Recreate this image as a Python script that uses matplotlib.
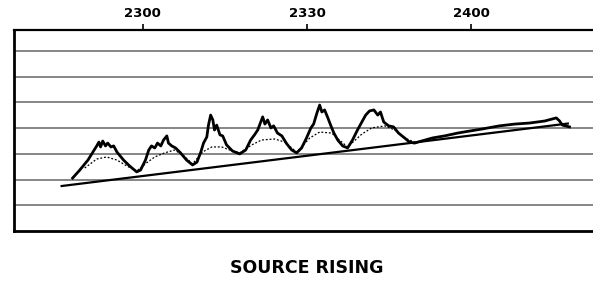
import matplotlib
matplotlib.use("Agg")
import matplotlib.pyplot as plt
import numpy as np

# time axis in minutes after 2300, level in grid units
tick_pos = [0, 30, 60]
tick_labels = ["2300", "2330", "2400"]
grid_levels = [1, 2, 3, 4, 5, 6, 7]

trace_t = [-12.8, -11.5, -10.0, -9.1, -8.4, -8.0, -7.7, -7.3, -6.8, -6.4, -5.8, -5.3, -4.7,
           -3.5, -2.4, -1.1, -0.4, 0.5, 1.1, 1.6, 2.2, 2.7, 3.3, 3.8, 4.4, 4.7, 5.3, 6.0,
           6.9, 8.0, 9.1, 9.9, 10.6, 11.1, 11.7, 12.0, 12.4, 12.8, 13.1, 13.5, 14.1, 14.6,
           15.3, 16.4, 17.7, 18.8, 19.7, 20.4, 21.0, 21.4, 21.9, 22.3, 22.8, 23.4, 23.9,
           24.6, 25.4, 26.3, 27.2, 28.1, 29.0, 29.9, 30.7, 31.2, 31.8, 32.3, 32.7, 33.2,
           33.8, 34.3, 34.9, 35.6, 36.5, 37.4, 38.3, 39.2, 40.0, 40.7, 41.4, 42.2, 42.9,
           43.4, 44.0, 44.9, 45.8, 46.7, 47.8, 48.7, 49.6, 50.9, 52.9, 55.1, 57.5, 59.7,
           62.0, 65.1, 67.9, 70.6, 73.4, 75.5, 76.1, 76.6, 77.9]
trace_v = [2.06, 2.37, 2.76, 3.07, 3.31, 3.46, 3.27, 3.50, 3.31, 3.42, 3.27, 3.31, 3.07,
           2.76, 2.53, 2.30, 2.37, 2.76, 3.15, 3.31, 3.23, 3.42, 3.31, 3.54, 3.70, 3.42,
           3.31, 3.23, 3.04, 2.76, 2.57, 2.68, 3.07, 3.42, 3.66, 4.12, 4.51, 4.32, 3.93,
           4.12, 3.74, 3.70, 3.35, 3.11, 3.00, 3.15, 3.54, 3.74, 3.93, 4.16, 4.44, 4.16,
           4.32, 4.01, 4.09, 3.81, 3.70, 3.39, 3.15, 3.04, 3.23, 3.62, 4.01, 4.16, 4.59,
           4.90, 4.63, 4.71, 4.40, 4.12, 3.81, 3.54, 3.31, 3.23, 3.54, 3.93, 4.24, 4.51,
           4.67, 4.71, 4.51, 4.63, 4.24, 4.09, 4.05, 3.81, 3.62, 3.46, 3.42, 3.50, 3.62,
           3.70, 3.81, 3.89, 3.97, 4.09, 4.16, 4.20, 4.28, 4.40, 4.28, 4.12, 4.05]

mean_t = [-10.6, -8.4, -6.6, -4.7, -2.9, -1.1, 0.7, 2.2, 4.0, 5.8, 7.3, 9.1, 10.9, 12.6,
          14.4, 15.9, 17.7, 19.9, 21.7, 24.1, 25.9, 28.1, 30.5, 32.3, 34.5, 35.9, 37.4,
          40.0, 41.8, 44.2, 46.0, 47.8, 49.6]
mean_v = [2.45, 2.80, 2.88, 2.76, 2.53, 2.33, 2.65, 2.88, 3.04, 3.15, 2.96, 2.61, 3.07,
          3.27, 3.27, 3.15, 3.04, 3.35, 3.54, 3.58, 3.46, 3.07, 3.62, 3.85, 3.81, 3.54,
          3.27, 3.77, 4.01, 4.09, 3.93, 3.62, 3.46]

base_t = [-14.8, 77.6]
base_v = [1.75, 4.18]

fig = plt.figure(figsize=(5.93, 2.81), dpi=100)
ax = fig.add_axes([14 / 593, 1 - 231 / 281, 1 - 14 / 593, 201 / 281])

for g in grid_levels:
    ax.axhline(g, color="#666666", lw=1.1, zorder=1)

ax.plot(base_t, base_v, color="black", lw=1.6, zorder=3)
ax.plot(mean_t, mean_v, color="black", lw=0.9, ls=(0, (1.5, 1.5)), zorder=3)
ax.plot(trace_t, trace_v, color="black", lw=2.0, zorder=4, solid_joinstyle="round")

ax.set_xlim(-23.5, 82.2)
ax.set_ylim(0, 7.82)
ax.set_yticks([])
ax.xaxis.tick_top()
ax.set_xticks(tick_pos)
ax.set_xticklabels(tick_labels, fontsize=9.5, fontweight="bold")
ax.tick_params(axis="x", direction="out", length=4, width=1.2, pad=3)

ax.spines["right"].set_visible(False)
ax.spines["top"].set_linewidth(1.6)
ax.spines["left"].set_linewidth(2)
ax.spines["bottom"].set_linewidth(2)

fig.text(0.518, 1 - 268 / 281, "SOURCE RISING", ha="center", va="center",
         fontsize=12.5, fontweight="bold", family="DejaVu Sans")

fig.savefig("out.png", dpi=100)
